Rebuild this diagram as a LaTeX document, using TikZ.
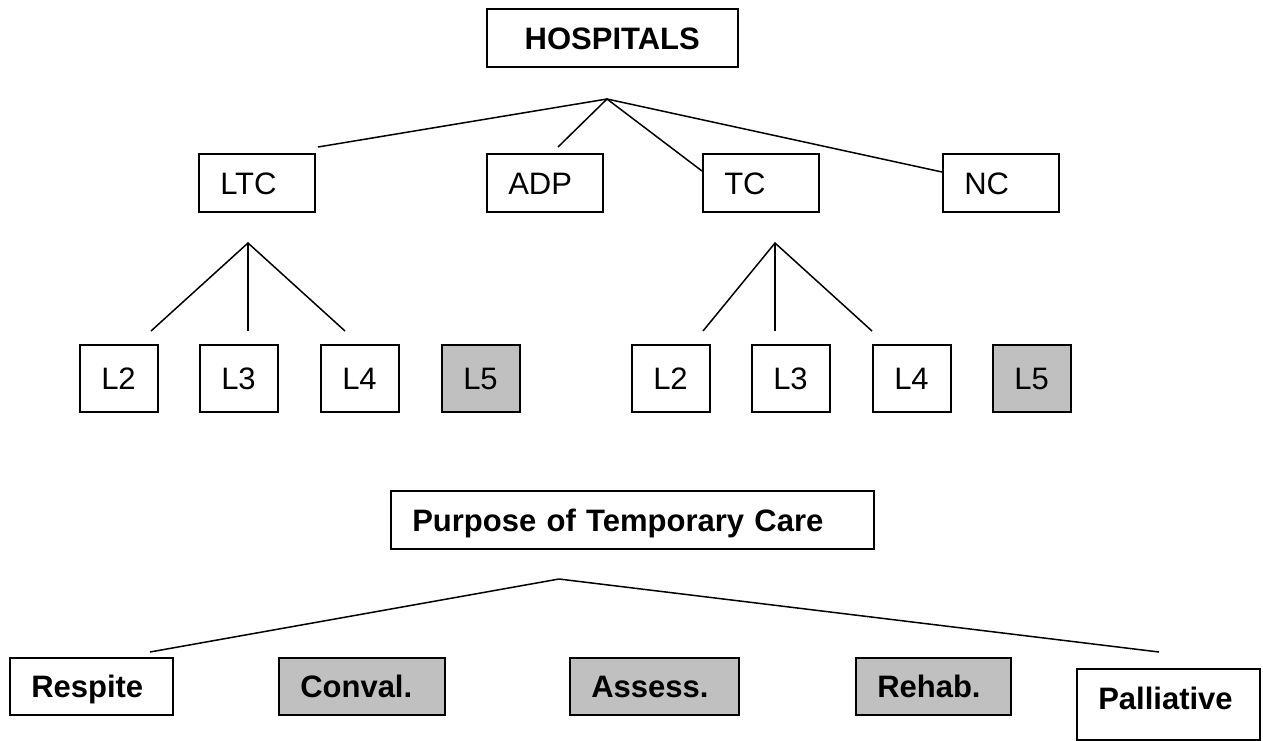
\documentclass[tikz,border=0pt]{standalone}
\usepackage{fontspec}
\setmainfont{Liberation Sans}
\definecolor{boxgray}{HTML}{C0C0C0}
\begin{document}
\begin{tikzpicture}[x=1pt,y=-1pt,
  box/.style={draw, line width=1.5pt, inner xsep=21.5pt, inner ysep=0pt,
    text height=22.5pt, text depth=0pt,
    align=left, anchor=north west, font=\fontsize{31}{36}\selectfont},
  bbox/.style={box, font=\fontsize{31}{36}\selectfont\bfseries},
  grayfill/.style={fill=boxgray},
  conn/.style={line width=1.5pt}]
\useasboundingbox (0,0) rectangle (1263,740);
% top level
\node[bbox, align=center, text width=208pt, minimum height=58pt] (hosp) at (486,8) {HOSPITALS};
\node[box, text width=73pt, minimum height=58pt] (ltc) at (198,153) {LTC};
\node[box, text width=73pt, minimum height=58pt] (adp) at (486,153) {ADP};
\node[box, text width=73pt, minimum height=58pt] (tc) at (702,153) {TC};
\node[box, text width=73pt, minimum height=58pt] (nc) at (942,153) {NC};
% level boxes left
\node[box, text width=35pt, minimum height=67pt] (la2) at (79,344) {L2};
\node[box, text width=35pt, minimum height=67pt] (la3) at (199,344) {L3};
\node[box, text width=35pt, minimum height=67pt] (la4) at (320,344) {L4};
\node[box, grayfill, text width=35pt, minimum height=67pt] (la5) at (441,344) {L5};
% level boxes right
\node[box, text width=35pt, minimum height=67pt] (lb2) at (631,344) {L2};
\node[box, text width=35pt, minimum height=67pt] (lb3) at (751,344) {L3};
\node[box, text width=35pt, minimum height=67pt] (lb4) at (872,344) {L4};
\node[box, grayfill, text width=35pt, minimum height=67pt] (lb5) at (992,344) {L5};
% purpose
\node[bbox, text width=440pt, minimum height=58pt] (purp) at (390,490) {Purpose of Temporary Care};
\node[bbox, text width=120pt, minimum height=57pt] (resp) at (9,657) {Respite};
\node[bbox, grayfill, text width=123pt, minimum height=57pt] (conv) at (278,657) {Conval.};
\node[bbox, grayfill, text width=126pt, minimum height=57pt] (asse) at (569,657) {Assess.};
\node[bbox, grayfill, text width=112pt, minimum height=57pt] (reha) at (855,657) {Rehab.};
\node[bbox, text width=140pt, minimum height=71pt, text depth=12pt] (pall) at (1076,668) {Palliative};
% connector points
\coordinate (apex) at (607,99);
\coordinate (eltc) at (318,147);
\coordinate (eadp) at (558,147);
\coordinate (etc) at (702,171);
\coordinate (enc) at (942,172);
\coordinate (apl) at (248,243);
\coordinate (ela2) at (151,331);
\coordinate (ela3) at (248,331);
\coordinate (ela4) at (345,331);
\coordinate (apr) at (775,243);
\coordinate (elb2) at (703,331);
\coordinate (elb3) at (775,331);
\coordinate (elb4) at (872,331);
\coordinate (apb) at (559,579);
\coordinate (eresp) at (150,652);
\coordinate (epall) at (1159,652);
\draw[conn] (eltc) -- (apex) -- (enc);
\draw[conn] (eadp) -- (apex) -- (etc);
\draw[conn] (ela2) -- (apl) -- (ela4);
\draw[conn] (apl) -- (ela3);
\draw[conn] (elb2) -- (apr) -- (elb4);
\draw[conn] (apr) -- (elb3);
\draw[conn] (eresp) -- (apb) -- (epall);
\end{tikzpicture}
\end{document}
